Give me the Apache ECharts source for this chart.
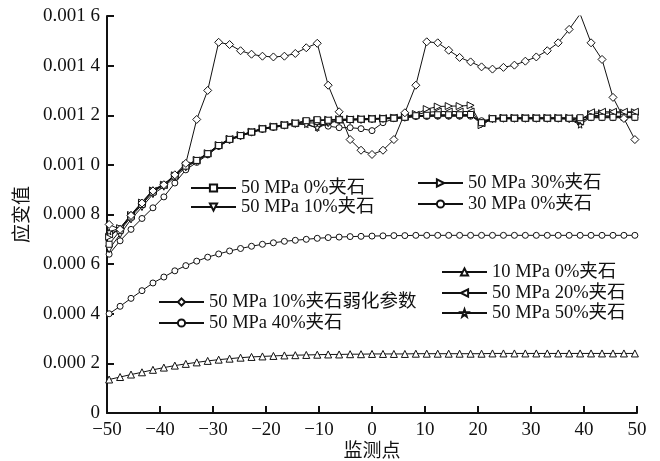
<!DOCTYPE html>
<html>
<head>
<meta charset="utf-8">
<script src="https://cdn.jsdelivr.net/npm/echarts@6/dist/echarts.min.js"></script>
<style>html,body{margin:0;padding:0;background:#fff;}#c{width:660px;height:461px;}</style>
</head>
<body>
<div id="c"></div>
<script>
var xValues = [-49.6,-47.53,-45.47,-43.4,-41.33,-39.27,-37.2,-35.13,-33.07,-31,
-28.93,-26.87,-24.8,-22.73,-20.67,-18.6,-16.53,-14.47,-12.4,-10.33,
-8.27,-6.2,-4.13,-2.07,0,2.07,4.13,6.2,8.27,10.33,
12.4,14.47,16.53,18.6,20.67,22.73,24.8,26.87,28.93,31,
33.07,35.13,37.2,39.27,41.33,43.4,45.47,47.53,49.6];

var xTicks = [-50,-40,-30,-20,-10,0,10,20,30,40,50];
var yTicks = ['0','0.000 2','0.000 4','0.000 6','0.000 8','0.001 0','0.001 2','0.001 4','0.001 6'];

var s50_0 = [0.00068,0.000735,0.00079,0.00084,0.00089,0.000918,0.000955,0.000995,0.001018,0.001045,
0.001078,0.001103,0.001118,0.001132,0.001145,0.001153,0.00116,0.001168,0.001178,0.001182,
0.00118,0.001182,0.001183,0.001184,0.001185,0.001186,0.001188,0.001192,0.001198,0.0012,
0.001202,0.001202,0.001202,0.001203,0.00117,0.001186,0.001188,0.001188,0.001188,0.001188,
0.001188,0.001188,0.001188,0.00119,0.001192,0.001192,0.001192,0.001192,0.001192];

var s50_10 = [0.00066,0.00072,0.00078,0.00083,0.000882,0.000912,0.00095,0.00099,0.001015,0.001042,
0.001075,0.0011,0.001116,0.00113,0.001143,0.001151,0.001158,0.001165,0.001165,0.001148,
0.001168,0.001178,0.00118,0.001181,0.001183,0.001185,0.001187,0.00119,0.001195,0.001198,
0.001198,0.001198,0.001198,0.0012,0.001165,0.001184,0.001186,0.001186,0.001186,0.001186,
0.001186,0.001186,0.001184,0.001168,0.0012,0.001198,0.001196,0.001194,0.001192];

var s50_30 = [0.00071,0.000745,0.000798,0.000848,0.000897,0.00092,0.000958,0.000998,0.00102,0.001047,
0.00108,0.001105,0.00112,0.001134,0.001147,0.001155,0.001162,0.001169,0.001176,0.00118,
0.001182,0.001184,0.001185,0.001186,0.001187,0.001188,0.00119,0.001195,0.001205,0.001225,
0.001235,0.001237,0.001237,0.00124,0.00116,0.001188,0.00119,0.00119,0.00119,0.00119,
0.00119,0.00119,0.00119,0.001185,0.001205,0.001208,0.00121,0.00121,0.001212];

var s30_0 = [0.0004,0.00043,0.000462,0.000493,0.000524,0.000548,0.000573,0.000594,0.000612,0.000628,
0.000641,0.000653,0.000663,0.000672,0.00068,0.000686,0.000692,0.000696,0.0007,0.000704,
0.000707,0.000709,0.000711,0.000712,0.000713,0.000714,0.000715,0.000715,0.000716,0.000716,
0.000716,0.000716,0.000716,0.000716,0.000716,0.000716,0.000716,0.000716,0.000716,0.000716,
0.000716,0.000716,0.000716,0.000716,0.000716,0.000716,0.000716,0.000716,0.000716];

var sWeak = [0.00076,0.00074,0.000796,0.000846,0.000895,0.00092,0.00096,0.001006,0.001183,0.0013,
0.001494,0.001485,0.00146,0.001446,0.001438,0.001435,0.001438,0.001449,0.001472,0.00149,
0.001321,0.001214,0.001102,0.001059,0.001042,0.001059,0.001102,0.00121,0.001321,0.001496,
0.001492,0.001462,0.001433,0.001415,0.001395,0.001386,0.001393,0.001402,0.001418,0.001435,
0.00146,0.001492,0.001546,0.001608,0.001492,0.001425,0.001272,0.001187,0.001102];

var s50_40 = [0.00064,0.000694,0.00074,0.000784,0.000827,0.000871,0.000927,0.00098,0.00101,0.00104,
0.001074,0.0011,0.001116,0.00113,0.001143,0.001151,0.001158,0.001165,0.00117,0.001168,
0.001156,0.00115,0.00115,0.001146,0.001138,0.00117,0.001186,0.00119,0.001195,0.001195,
0.001196,0.001196,0.001196,0.001196,0.001178,0.001185,0.001186,0.001186,0.001186,0.001186,
0.001186,0.001186,0.001186,0.001178,0.00119,0.00119,0.00119,0.00119,0.00119];

var s10_0 = [0.000135,0.000145,0.000155,0.000164,0.000174,0.000183,0.000191,0.000198,0.000204,0.00021,
0.000215,0.000219,0.000223,0.000226,0.000228,0.00023,0.000232,0.000233,0.000234,0.000235,
0.000236,0.000236,0.000237,0.000237,0.000238,0.000238,0.000238,0.000238,0.000239,0.000239,
0.000239,0.000239,0.000239,0.000239,0.000239,0.00024,0.00024,0.00024,0.00024,0.00024,
0.00024,0.00024,0.00024,0.00024,0.00024,0.00024,0.00024,0.00024,0.00024];

var s50_20 = [0.00072,0.000742,0.000796,0.000846,0.000895,0.000919,0.000957,0.000997,0.001018,0.001046,
0.001079,0.001104,0.001119,0.001133,0.001146,0.001154,0.001161,0.001168,0.001175,0.001178,
0.00118,0.001182,0.001183,0.001184,0.001186,0.001188,0.00119,0.001194,0.001202,0.001212,
0.001215,0.001215,0.001215,0.001215,0.001168,0.001186,0.001188,0.001188,0.001188,0.001188,
0.001188,0.001188,0.001188,0.001175,0.001212,0.001214,0.001214,0.001214,0.001214];

var s50_50 = [0.00073,0.000745,0.0008,0.00085,0.0009,0.000922,0.00096,0.000998,0.001018,0.001046,
0.001079,0.001104,0.001119,0.001133,0.001146,0.001154,0.001161,0.001165,0.001162,0.00115,
0.001172,0.00118,0.001182,0.001183,0.001185,0.001187,0.001189,0.001192,0.001198,0.0012,
0.0012,0.0012,0.0012,0.0012,0.001172,0.001186,0.001188,0.001188,0.001188,0.001188,
0.001188,0.001188,0.001186,0.00116,0.001195,0.001196,0.001196,0.001196,0.001196];

var seriesNames = ['50 MPa 0%夹石','50 MPa 10%夹石','50 MPa 30%夹石','30 MPa 0%夹石',
  '50 MPa 10%夹石弱化参数','50 MPa 40%夹石','10 MPa 0%夹石','50 MPa 20%夹石','50 MPa 50%夹石'];

var FONT = "'Liberation Serif','Times New Roman','Noto Sans CJK SC',serif";
var STAR = 'path://M0,-10L2.35,-3.24L9.51,-3.09L3.8,1.24L5.88,8.09L0,4L-5.88,8.09L-3.8,1.24L-9.51,-3.09L-2.35,-3.24Z';

function mk(name, vals, symbol, rot, size, fill) {
  return {
    name: name, type: 'line',
    data: xValues.map(function (x, i) { return [x, vals[i]]; }),
    symbol: symbol, symbolRotate: rot, symbolSize: size, showAllSymbol: true,
    lineStyle: { color: '#111', width: 1 },
    itemStyle: { color: fill || '#fff', borderColor: '#111', borderWidth: 1 },
    emphasis: { disabled: true },
    animation: false
  };
}

var series = [
  mk(seriesNames[6], s10_0, 'triangle', 0, 7),
  mk(seriesNames[3], s30_0, 'circle', 0, 6),
  mk(seriesNames[5], s50_40, 'circle', 0, 6),
  mk(seriesNames[1], s50_10, 'triangle', 180, 7),
  mk(seriesNames[2], s50_30, 'triangle', -90, 7),
  mk(seriesNames[7], s50_20, 'triangle', 90, 7),
  mk(seriesNames[8], s50_50, STAR, 0, 6, '#fff'),
  mk(seriesNames[0], s50_0, 'rect', 0, 6),
  mk(seriesNames[4], sWeak, 'diamond', 0, 8)
];

function lg(name, left, cy) {
  return {
    data: [name], left: left, top: cy - 10, padding: 0,
    itemWidth: 45, itemHeight: 9, itemGap: 0, selectedMode: false,
    textStyle: { fontFamily: FONT, fontSize: 18.5, color: '#111', lineHeight: 20 }
  };
}

var chart = echarts.init(document.getElementById('c'), null, { renderer: 'canvas' });
chart.setOption({
  animation: false,
  backgroundColor: '#fff',
  grid: { left: 107, right: 23, top: 16, bottom: 48, containLabel: false, outerBoundsMode: 'none' },
  legend: [
    lg(seriesNames[0], 190, 188),
    lg(seriesNames[1], 190, 207),
    lg(seriesNames[2], 417, 183),
    lg(seriesNames[3], 417, 204),
    lg(seriesNames[4], 158, 302),
    lg(seriesNames[5], 158, 323),
    lg(seriesNames[6], 441, 272),
    lg(seriesNames[7], 441, 293),
    lg(seriesNames[8], 441, 313)
  ],
  xAxis: {
    type: 'value', min: xTicks[0], max: xTicks[xTicks.length - 1], interval: 10,
    name: '监测点', nameLocation: 'middle', nameGap: 30, nameMoveOverlap: false,
    nameTextStyle: { fontFamily: FONT, fontSize: 19, color: '#111' },
    axisLine: { onZero: false, lineStyle: { color: '#111', width: 2 } },
    axisTick: { inside: true, length: 7, lineStyle: { color: '#111', width: 2 } },
    axisLabel: { fontFamily: FONT, fontSize: 19, color: '#111', margin: 8,
      formatter: function (v) { return String(v).replace('-', '\u2212'); } },
    splitLine: { show: false }
  },
  yAxis: {
    type: 'value', min: 0, max: 0.0016, interval: 0.0002,
    name: '应变值', nameLocation: 'middle', nameGap: 74, nameRotate: 90, nameMoveOverlap: false,
    nameTextStyle: { fontFamily: FONT, fontSize: 19, color: '#111' },
    axisLine: { show: true, onZero: false, lineStyle: { color: '#111', width: 2 } },
    axisTick: { show: true, inside: true, length: 7, lineStyle: { color: '#111', width: 2 } },
    axisLabel: { fontFamily: FONT, fontSize: 19, color: '#111', margin: 7,
      formatter: function (v) { return yTicks[Math.round(v / 0.0002)]; } },
    splitLine: { show: false }
  },
  series: series
});
</script>
</body>
</html>
